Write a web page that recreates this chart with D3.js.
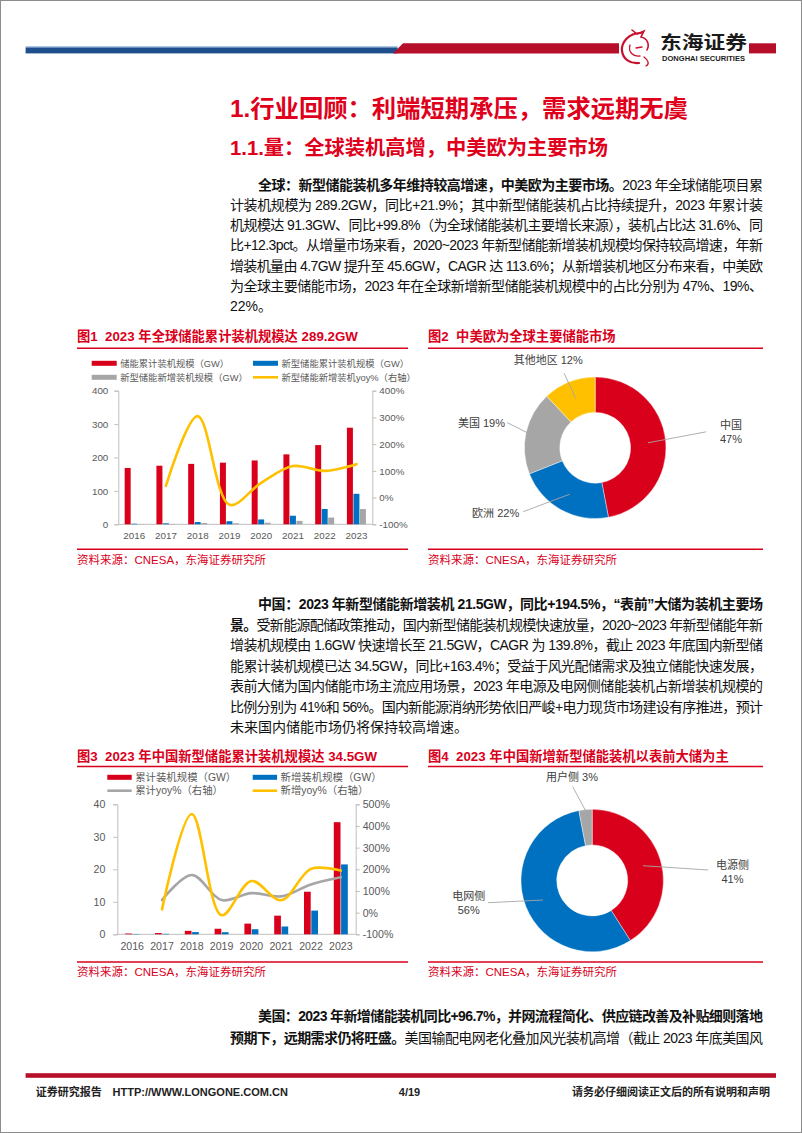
<!DOCTYPE html>
<html><head><meta charset="utf-8">
<script src="https://cdn.jsdelivr.net/npm/d3@7/dist/d3.min.js"></script>
<style>body{margin:0;background:#fff}svg{display:block}</style>
</head><body>
<svg id="page" width="802" height="1133"></svg>
<script>
// ---------------- DATA ----------------
const years = ["2016","2017","2018","2019","2020","2021","2022","2023"];
// Fig1 global
const globalTotalCum = [168.7,175.4,180.9,184.6,191.1,209.4,237.2,289.2];
const globalNewCum   = [1.7,2.9,6.7,9.2,14.5,25.6,45.8,91.3];
const globalNewAdd   = [0.6,0.9,3.8,3.0,4.7,10.2,20.2,45.6];
const globalNewYoy   = [null,44,305,-27,55,118,100,125];
const fig1Legend = ["储能累计装机规模（GW）","新型储能累计装机规模（GW）","新型储能新增装机规模（GW）","新型储能新增装机yoy%（右轴）"];
const fig1LeftTicks = [0,100,200,300,400];
const fig1RightTicks = [-100,0,100,200,300,400];
// Fig2
const marketLabels = ["中国","欧洲","美国","其他地区"];
const marketShares = [47,22,19,12];
// Fig3 China
const cnCum    = [0.24,0.39,1.07,1.71,3.28,5.73,13.1,34.5];
const cnAdd    = [0.1,0.15,0.68,0.64,1.56,2.4,7.3,21.5];
const cnCumYoy = [null,58,174,58,90,75,130,163];
const cnAddYoy = [null,15,455,-12,146,57,202,194];
const fig3Legend = ["累计装机规模（GW）","新增装机规模（GW）","累计yoy%（右轴）","新增yoy%（右轴）"];
const fig3LeftTicks = [0,10,20,30,40];
const fig3RightTicks = [-100,0,100,200,300,400,500];
// Fig4
const sceneLabels = ["电源侧","电网侧","用户侧"];
const sceneShares = [41,56,3];

// text content
const h1 = "1.行业回顾：利端短期承压，需求远期无虞";
const h2 = "1.1.量：全球装机高增，中美欧为主要市场";
const para1 = [
 [["全球：新型储能装机多年维持较高增速，中美欧为主要市场。",1],["2023 年全球储能项目累",0]],
 [["计装机规模为 289.2GW，同比+21.9%；其中新型储能装机占比持续提升，2023 年累计装",0]],
 [["机规模达 91.3GW、同比+99.8%（为全球储能装机主要增长来源），装机占比达 31.6%、同",0]],
 [["比+12.3pct。从增量市场来看，2020~2023 年新型储能新增装机规模均保持较高增速，年新",0]],
 [["增装机量由 4.7GW 提升至 45.6GW，CAGR 达 113.6%；从新增装机地区分布来看，中美欧",0]],
 [["为全球主要储能市场，2023 年在全球新增新型储能装机规模中的占比分别为 47%、19%、",0]],
 [["22%。",0]]
];
const para2 = [
 [["中国：2023 年新型储能新增装机 21.5GW，同比+194.5%，“表前”大储为装机主要场",1]],
 [["景。",1],["受新能源配储政策推动，国内新型储能装机规模快速放量，2020~2023 年新型储能年新",0]],
 [["增装机规模由 1.6GW 快速增长至 21.5GW，CAGR 为 139.8%，截止 2023 年底国内新型储",0]],
 [["能累计装机规模已达 34.5GW，同比+163.4%；受益于风光配储需求及独立储能快速发展，",0]],
 [["表前大储为国内储能市场主流应用场景，2023 年电源及电网侧储能装机占新增装机规模的",0]],
 [["比例分别为 41%和 56%。国内新能源消纳形势依旧严峻+电力现货市场建设有序推进，预计",0]],
 [["未来国内储能市场仍将保持较高增速。",0]]
];
const para3 = [
 [["美国：2023 年新增储能装机同比+96.7%，并网流程简化、供应链改善及补贴细则落地",1]],
 [["预期下，远期需求仍将旺盛。",1],["美国输配电网老化叠加风光装机高增（截止 2023 年底美国风",0]]
];

// ---------------- STYLE ----------------
const RED="#D9001B", BLUE="#0070C0", GRAY="#A6A6A6", YEL="#FFC000";
const HRED="#E0001B";
const MIX='"Liberation Sans",Arial,"Noto Sans CJK SC",sans-serif';
const BODY='"Liberation Sans Narrow","Liberation Sans","Noto Sans CJK SC",sans-serif';
const AX="#595959", AXL="#BFBFBF";
const svg = d3.select("#page");

// page border
svg.append("rect").attr("x",0.5).attr("y",0.5).attr("width",801).attr("height",1132).attr("fill","none").attr("stroke","#8c8c8c");

// ---------------- HEADER ----------------
svg.append("rect").attr("x",25.6).attr("y",46).attr("width",372).attr("height",1.2).attr("fill","#A9C8EA");
svg.append("rect").attr("x",25.6).attr("y",47.4).attr("width",372).attr("height",6).attr("fill","#1F4E8C");
svg.append("path").attr("d","M393,53.4 L403,43.3 L619,43.3 L619,53.4 Z").attr("fill","#B50F2A");
svg.append("rect").attr("x",749).attr("y",43.3).attr("width",27).attr("height",10.1).attr("fill","#B50F2A");
// logo mark
const lg = svg.append("g").attr("fill","none").attr("stroke","#C8102E").attr("stroke-linecap","round");
lg.append("path").attr("d","M641,33 C628,33 621,43 622,51 C623,59 630,64 639,63").attr("stroke-width",2.2);
lg.append("path").attr("d","M632,30 L637,34 L644,31 L641,37 C647,38 650,44 647,50").attr("stroke-width",1.6);
lg.append("path").attr("d","M630,45 C628,52 633,57 640,56 M636,48 L642,47").attr("stroke-width",1.3);
lg.append("path").attr("d","M644,57 C648,60 650,64 646,66").attr("stroke-width",1.3);
svg.append("text").attr("x",660).attr("y",49).attr("font-family",'"Noto Sans CJK SC"').attr("font-weight","bold")
  .attr("font-size",18).attr("fill","#1a1a1a").attr("textLength",87).attr("lengthAdjust","spacingAndGlyphs").text("东海证券");
svg.append("text").attr("x",662).attr("y",61).attr("font-family",MIX).attr("font-weight","bold")
  .attr("font-size",7.2).attr("fill","#1a1a1a").attr("textLength",83).attr("lengthAdjust","spacingAndGlyphs").text("DONGHAI SECURITIES");

// ---------------- HEADINGS ----------------
svg.append("text").attr("x",230).attr("y",116.5).attr("font-family",MIX).attr("font-weight","bold")
  .attr("font-size",24).attr("fill",HRED).attr("textLength",458).attr("lengthAdjust","spacingAndGlyphs").text(h1);
svg.append("text").attr("x",230).attr("y",155).attr("font-family",MIX).attr("font-weight","bold")
  .attr("font-size",20).attr("fill",HRED).attr("textLength",378).attr("lengthAdjust","spacingAndGlyphs").text(h2);

// ---------------- PARAGRAPHS ----------------
function para(lines,x0,x1,y0,lh,size,indent,justifyLast){
  lines.forEach((segs,i)=>{
    const last = i===lines.length-1;
    const xs = i===0 ? x0+indent : x0;
    const t = svg.append("text").attr("x",xs).attr("y",y0+i*lh).attr("font-size",size)
      .attr("font-family",BODY).attr("fill","#111");
    segs.forEach(s=>t.append("tspan").attr("font-weight",s[1]?"bold":"normal").text(s[0]));
    if(!last || justifyLast){
      const n = t.text().length;
      const w = t.node().getComputedTextLength();
      t.style("letter-spacing",((x1-xs-w)/(n-1))+"px");
    }
  });
}
para(para1,230,763,189.5,20.3,14,28,false);
para(para2,230,763,609,20.5,14,28,false);
para(para3,230,763,1021,22,14,28,true);

// ---------------- FIGURE FRAMES ----------------
function frame(x0,x1,yt,ylTop,ylBot,title,src){
  svg.append("text").attr("x",x0).attr("y",yt).attr("font-family",MIX).attr("font-weight","bold")
    .attr("font-size",13.3).attr("fill",RED).attr("xml:space","preserve").text(title);
  svg.append("line").attr("x1",x0).attr("x2",x1).attr("y1",ylTop).attr("y2",ylTop).attr("stroke",RED).attr("stroke-width",1.4);
  svg.append("line").attr("x1",x0).attr("x2",x1).attr("y1",ylBot).attr("y2",ylBot).attr("stroke",RED).attr("stroke-width",1.4);
  svg.append("text").attr("x",x0).attr("y",ylBot+14.3).attr("font-family",BODY)
    .attr("font-size",11.5).attr("fill",RED).text(src);
}
const SRC="资料来源：CNESA，东海证券研究所";
frame(77,408,341,348.3,549.3,"图1\u00a0\u00a02023 年全球储能累计装机规模达 289.2GW",SRC);
frame(428,763,341,348.3,549.3,"图2\u00a0\u00a0中美欧为全球主要储能市场",SRC);
frame(77,408,761,766.5,962,"图3\u00a0\u00a02023 年中国新型储能累计装机规模达 34.5GW",SRC);
frame(428,763,761,766.5,962,"图4\u00a0\u00a02023 年中国新增新型储能装机以表前大储为主",SRC);

// ---------------- BAR + LINE CHART ----------------
function comboChart(c){
  const g = svg.append("g");
  const x = d3.scaleBand().domain(years).range([c.x0,c.x1]);
  const yL = d3.scaleLinear().domain(c.lDom).range([c.yb,c.yt]);
  const yR = d3.scaleLinear().domain(c.rDom).range([c.yb,c.yt]);
  const inner = d3.scaleBand().domain(d3.range(c.bars.length)).range([-c.groupW/2,c.groupW/2]).paddingInner(c.barGap);
  const aL = g.append("g").attr("transform",`translate(${c.x0},0)`)
    .call(d3.axisLeft(yL).tickValues(c.lTicks).tickSize(4).tickPadding(c.lPad).tickFormat(d=>d));
  const aR = g.append("g").attr("transform",`translate(${c.x1},0)`)
    .call(d3.axisRight(yR).tickValues(c.rTicks).tickSize(4).tickPadding(3).tickFormat(d=>d+"%"));
  const aB = g.append("g").attr("transform",`translate(0,${c.yb})`)
    .call(d3.axisBottom(x).tickSize(0).tickPadding(c.bPad).tickSizeOuter(0));
  [aL,aR,aB].forEach(a=>{
    a.selectAll("path,line").attr("stroke",AXL).attr("stroke-width",1);
    a.selectAll("text").attr("fill",AX).attr("font-family",MIX).attr("font-size",c.fs);
  });
  aB.select(".domain").attr("d",`M${c.x0},0H${c.x1}`);
  c.bars.forEach((b,k)=>{
    g.append("g").selectAll("rect").data(b.values).join("rect")
      .attr("x",(d,i)=>x(years[i])+x.bandwidth()/2+inner(k))
      .attr("width",inner.bandwidth())
      .attr("y",d=>yL(d)).attr("height",d=>yL(0)-yL(d)).attr("fill",b.color);
  });
  c.lines.forEach(l=>{
    const ln = d3.line().defined(d=>d!=null)
      .x((d,i)=>x(years[i])+x.bandwidth()/2).y(d=>yR(d)).curve(d3.curveCatmullRom.alpha(0.5));
    g.append("path").attr("d",ln(l.values)).attr("fill","none").attr("stroke",l.color)
      .attr("stroke-width",2.6).attr("stroke-linecap","round");
  });
  c.legend.forEach((it,i)=>{
    const lx = c.legX[i%2], ly = c.legY[Math.floor(i/2)];
    if(it.type==="bar") g.append("rect").attr("x",lx).attr("y",ly-2.5).attr("width",c.swW).attr("height",5).attr("fill",it.color);
    else g.append("line").attr("x1",lx).attr("x2",lx+c.swW).attr("y1",ly).attr("y2",ly).attr("stroke",it.color).attr("stroke-width",2.6);
    g.append("text").attr("x",lx+c.swW+3.5).attr("y",ly).attr("dy","0.36em").attr("font-family",MIX)
      .attr("font-size",c.legFs).attr("fill",AX).text(it.label);
  });
}

comboChart({
  x0:118.3,x1:372.3,yb:524.3,yt:390.7,lDom:[0,400],rDom:[-100,400],
  lTicks:fig1LeftTicks,rTicks:fig1RightTicks,lPad:6,bPad:7.3,fs:9.8,
  groupW:19,barGap:0.08,
  bars:[{values:globalTotalCum,color:RED},{values:globalNewCum,color:BLUE},{values:globalNewAdd,color:GRAY}],
  lines:[{values:globalNewYoy,color:YEL}],
  legend:[{label:fig1Legend[0],color:RED,type:"bar"},{label:fig1Legend[1],color:BLUE,type:"bar"},
          {label:fig1Legend[2],color:GRAY,type:"bar"},{label:fig1Legend[3],color:YEL,type:"line"}],
  legX:[91.7,253],legY:[363.3,377.3],swW:25,legFs:9.3
});

comboChart({
  x0:117.3,x1:355.7,yb:934.3,yt:804.3,lDom:[0,40],rDom:[-100,500],
  lTicks:fig3LeftTicks,rTicks:fig3RightTicks,lPad:8,bPad:8.6,fs:10.6,
  groupW:14,barGap:0.08,
  bars:[{values:cnCum,color:RED},{values:cnAdd,color:BLUE}],
  lines:[{values:cnCumYoy,color:GRAY},{values:cnAddYoy,color:YEL}],
  legend:[{label:fig3Legend[0],color:RED,type:"bar"},{label:fig3Legend[1],color:BLUE,type:"bar"},
          {label:fig3Legend[2],color:GRAY,type:"line"},{label:fig3Legend[3],color:YEL,type:"line"}],
  legX:[107.3,252.7],legY:[777.3,790.7],swW:24.4,legFs:10.4
});

// ---------------- DONUTS ----------------
function donut(c){
  const g = svg.append("g").attr("transform",`translate(${c.cx},${c.cy})`);
  const pie = d3.pie().sort(null).value(d=>d)(c.values);
  const arc = d3.arc().innerRadius(c.ri).outerRadius(c.ro);
  g.selectAll("path").data(pie).join("path").attr("d",arc).attr("fill",(d,i)=>c.colors[i])
    .attr("stroke","#fff").attr("stroke-width",0.4);
  pie.forEach((p,i)=>{
    const L = c.place[i];
    const a = (p.startAngle+p.endAngle)/2;
    const sx = Math.sin(a)*L.r, sy = -Math.cos(a)*L.r;
    g.append("line").attr("x1",sx).attr("y1",sy).attr("x2",L.lx).attr("y2",L.ly)
      .attr("stroke","#A6A6A6").attr("stroke-width",0.9);
    const t = g.append("text").attr("font-family",MIX).attr("font-size",11).attr("fill","#404040")
      .attr("text-anchor",L.anchor);
    const txt = c.labels[i], pct = c.values[i]+"%";
    if(L.two){
      t.append("tspan").attr("x",L.tx).attr("y",L.ty).text(txt);
      t.append("tspan").attr("x",L.tx).attr("y",L.ty+14.3).text(pct);
    } else {
      t.attr("x",L.tx).attr("y",L.ty).text(txt+" "+pct);
    }
  });
}
donut({cx:595.2,cy:447.8,ri:35.4,ro:70.8,values:marketShares,labels:marketLabels,
  colors:[RED,BLUE,GRAY,YEL],
  place:[
    {r:53,lx:111,ly:-16,tx:124.8,ty:-18.8,anchor:"start",two:true},
    {r:53,lx:-72,ly:63.9,tx:-76,ty:68.9,anchor:"end"},
    {r:70,lx:-88,ly:-25.2,tx:-90.2,ty:-20.5,anchor:"end"},
    {r:53,lx:-31,ly:-74.5,tx:-47,ty:-83.8,anchor:"middle"}
  ]});
donut({cx:592.2,cy:880.5,ri:35.5,ro:71.2,values:sceneShares,labels:sceneLabels,
  colors:[RED,BLUE,GRAY],
  place:[
    {r:53,lx:116,ly:-10.5,tx:140.3,ty:-11.5,anchor:"middle",two:true},
    {r:53,lx:-104,ly:22.2,tx:-123.5,ty:19.5,anchor:"middle",two:true},
    {r:70,lx:-19.5,ly:-93.8,tx:-20.2,ty:-99.3,anchor:"middle"}
  ]});

// ---------------- FOOTER ----------------
svg.append("rect").attr("x",25.6).attr("y",1073.2).attr("width",750.4).attr("height",4.6).attr("fill","#B50F2A");
const ft = (x,txt,anchor)=>svg.append("text").attr("x",x).attr("y",1095.6).attr("font-family",MIX)
  .attr("font-weight","bold").attr("font-size",11).attr("fill","#222").attr("text-anchor",anchor).text(txt);
ft(35.8,"证券研究报告","start");
ft(112.5,"HTTP://WWW.LONGONE.COM.CN","start");
ft(409.5,"4/19","middle");
ft(770,"请务必仔细阅读正文后的所有说明和声明","end");
</script>
</body></html>
